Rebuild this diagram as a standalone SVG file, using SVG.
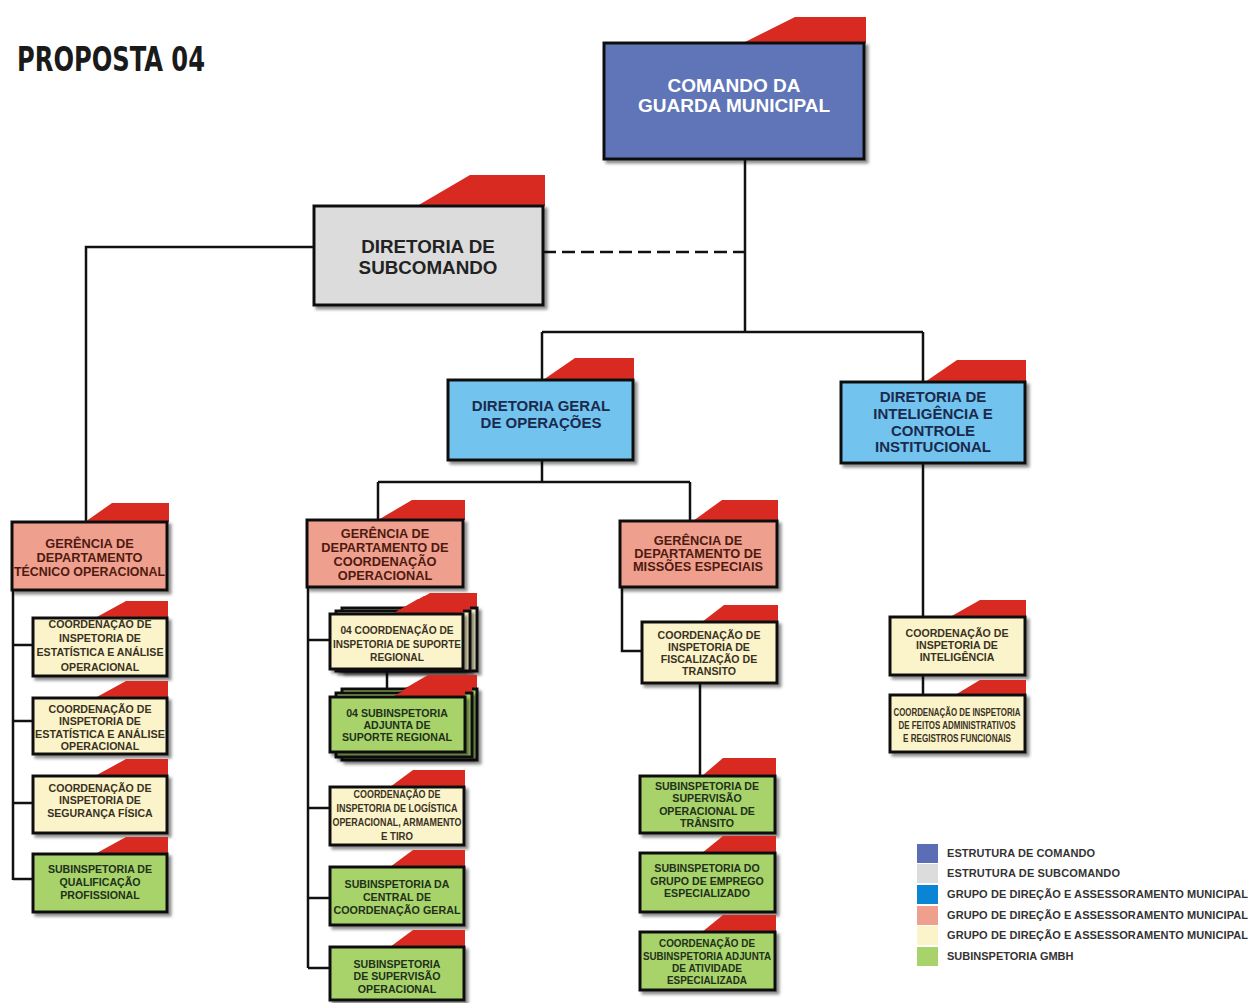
<svg xmlns="http://www.w3.org/2000/svg" width="1249" height="1003" viewBox="0 0 1249 1003">
<defs>
<filter id="sh" x="-10%" y="-10%" width="130%" height="140%">
<feDropShadow dx="3" dy="3" stdDeviation="1.6" flood-color="#000" flood-opacity="0.45"/>
</filter>
<style>
text{font-family:"Liberation Sans",Arial,sans-serif;font-weight:bold;text-anchor:middle}
.box{stroke:#111;stroke-width:3;filter:url(#sh)}
.tab{fill:#d82a20}
.cmd{fill:#5f74b7}
.sub{fill:#dcdcdc}
.dir{fill:#72c4ee}
.ger{fill:#ef9f8e}
.crd{fill:#fbf4cb}
.grn{fill:#a7d36a}
.tw{fill:#fff;font-size:19px}
.tg{fill:#222;font-size:18.8px}
.td{fill:#1b2a4e;font-size:15px}
.tr{fill:#4e1a10;font-size:12.8px}
.tc{fill:#3a321e;font-size:10.6px}
.tn{fill:#22301a;font-size:10.6px}
.lg{fill:#333;font-size:11px;text-anchor:start}
.con{fill:none;stroke:#111;stroke-width:2.5}
</style>
</defs>
<rect width="1249" height="1003" fill="#fff"/>
<text x="17" y="71" style="font-family:'DejaVu Sans Condensed','DejaVu Sans',sans-serif;font-size:33px;text-anchor:start;fill:#1a1a1a" textLength="188" lengthAdjust="spacingAndGlyphs">PROPOSTA 04</text>

<g id="connectors">
<path class="con" d="M745 160V332M542 332H923M542 332V380M923 332V382"/>
<path class="con" d="M543 252H745" stroke-dasharray="13 6"/>
<path class="con" d="M314 247H86V522"/>
<path class="con" d="M542 460V482M378 482H690M378 482V520M690 482V521"/>
<path class="con" d="M13 590V880M13 645H33M13 721H33M13 803H33M13 879H33"/>
<path class="con" d="M308 587V968M308 640H330M308 808H330M308 898H330M308 968H330"/>
<path class="con" d="M387 669V697"/>
<path class="con" d="M622 587V651H642"/>
<path class="con" d="M700 683V776"/>
<path class="con" d="M923 463V617M923 675V695"/>
</g>

<g id="comando">
<polygon class="tab" points="743,43 795,17 866,17 866,43"/>
<rect class="box cmd" x="604" y="43" width="260" height="116"/>
<text class="tw" x="734" y="92">COMANDO DA</text>
<text class="tw" x="734" y="112">GUARDA MUNICIPAL</text>
</g>

<g id="subcomando">
<polygon class="tab" points="417,206 470,175 545,175 545,206"/>
<rect class="box sub" x="314" y="206" width="229" height="99"/>
<text class="tg" x="428" y="253">DIRETORIA DE</text>
<text class="tg" x="428" y="274">SUBCOMANDO</text>
</g>

<g id="dgo">
<polygon class="tab" points="543,380 575,358 634,358 634,380"/>
<rect class="box dir" x="448" y="380" width="185" height="80"/>
<text class="td" x="541" y="411">DIRETORIA GERAL</text>
<text class="td" x="541" y="428">DE OPERAÇÕES</text>
</g>

<g id="dici">
<polygon class="tab" points="925,382 957,360 1026,360 1026,382"/>
<rect class="box dir" x="841" y="382" width="184" height="81"/>
<text class="td" x="933" y="402">DIRETORIA DE</text>
<text class="td" x="933" y="419">INTELIGÊNCIA E</text>
<text class="td" x="933" y="436">CONTROLE</text>
<text class="td" x="933" y="452">INSTITUCIONAL</text>
</g>

<g id="gdto">
<polygon class="tab" points="85,522 112,503 169,503 169,522"/>
<rect class="box ger" x="12" y="522" width="155" height="68"/>
<text class="tr" x="89.5" y="548">GERÊNCIA DE</text>
<text class="tr" x="89.5" y="562">DEPARTAMENTO</text>
<text class="tr" x="89.5" y="576" textLength="151" lengthAdjust="spacingAndGlyphs">TÉCNICO OPERACIONAL</text>
</g>

<g id="c1">
<polygon class="tab" points="95,618 126,601 168,601 168,618"/>
<rect class="box crd" x="33" y="618" width="134" height="58"/>
<text class="tc" x="100" y="628">COORDENAÇÃO DE</text>
<text class="tc" x="100" y="642">INSPETORIA DE</text>
<text class="tc" x="100" y="656" textLength="127" lengthAdjust="spacingAndGlyphs">ESTATÍSTICA E ANÁLISE</text>
<text class="tc" x="100" y="671">OPERACIONAL</text>
</g>

<g id="c2">
<polygon class="tab" points="95,698 126,681 168,681 168,698"/>
<rect class="box crd" x="33" y="698" width="134" height="56"/>
<text class="tc" x="100" y="713">COORDENAÇÃO DE</text>
<text class="tc" x="100" y="725">INSPETORIA DE</text>
<text class="tc" x="100" y="738" textLength="130" lengthAdjust="spacingAndGlyphs">ESTATÍSTICA E ANÁLISE</text>
<text class="tc" x="100" y="750">OPERACIONAL</text>
</g>

<g id="c3">
<polygon class="tab" points="95,776 126,759 168,759 168,776"/>
<rect class="box crd" x="33" y="776" width="134" height="57"/>
<text class="tc" x="100" y="792">COORDENAÇÃO DE</text>
<text class="tc" x="100" y="804">INSPETORIA DE</text>
<text class="tc" x="100" y="817">SEGURANÇA FÍSICA</text>
</g>

<g id="c4">
<polygon class="tab" points="95,854 126,837 168,837 168,854"/>
<rect class="box grn" x="33" y="854" width="134" height="58"/>
<text class="tn" x="100" y="873">SUBINSPETORIA DE</text>
<text class="tn" x="100" y="886">QUALIFICAÇÃO</text>
<text class="tn" x="100" y="899">PROFISSIONAL</text>
</g>

<g id="gdco">
<polygon class="tab" points="378,520 412,500 465,500 465,520"/>
<rect class="box ger" x="307" y="520" width="156" height="67"/>
<text class="tr" x="385" y="538">GERÊNCIA DE</text>
<text class="tr" x="385" y="552">DEPARTAMENTO DE</text>
<text class="tr" x="385" y="566">COORDENAÇÃO</text>
<text class="tr" x="385" y="580">OPERACIONAL</text>
</g>

<g id="s1">
<polygon class="tab" points="404,608 430,593 477,593 477,608"/>
<rect class="box crd" x="342" y="608" width="135" height="63"/>
<polygon class="tab" points="398,611 424,596 470,596 470,611"/>
<rect class="box crd" x="336" y="611" width="134" height="60"/>
<polygon class="tab" points="392,614 418,599 463,599 463,614"/>
<rect class="box crd" x="330" y="614" width="133" height="55"/>
<text class="tc" x="397" y="634" style="font-size:10.2px">04 COORDENAÇÃO DE</text>
<text class="tc" x="397" y="648" style="font-size:10.2px" textLength="128" lengthAdjust="spacingAndGlyphs">INSPETORIA DE SUPORTE</text>
<text class="tc" x="397" y="661" style="font-size:10.2px">REGIONAL</text>
</g>

<g id="s2">
<polygon class="tab" points="404,689 428,675 477,675 477,689"/>
<rect class="box grn" x="342" y="689" width="135" height="71"/>
<polygon class="tab" points="398,693 422,679 472,679 472,693"/>
<rect class="box grn" x="336" y="693" width="136" height="64"/>
<polygon class="tab" points="392,697 416,684 465,684 465,697"/>
<rect class="box grn" x="330" y="697" width="135" height="55"/>
<text class="tn" x="397" y="717">04 SUBINSPETORIA</text>
<text class="tn" x="397" y="729">ADJUNTA DE</text>
<text class="tn" x="397" y="741">SUPORTE REGIONAL</text>
</g>

<g id="c5">
<polygon class="tab" points="390,787 413,770 465,770 465,787"/>
<rect class="box crd" x="330" y="787" width="134" height="58"/>
<text class="tc" x="397" y="798" textLength="87" lengthAdjust="spacingAndGlyphs">COORDENAÇÃO DE</text>
<text class="tc" x="397" y="812" textLength="121" lengthAdjust="spacingAndGlyphs">INSPETORIA DE LOGÍSTICA</text>
<text class="tc" x="397" y="826" textLength="129" lengthAdjust="spacingAndGlyphs">OPERACIONAL, ARMAMENTO</text>
<text class="tc" x="397" y="840" textLength="32" lengthAdjust="spacingAndGlyphs">E TIRO</text>
</g>

<g id="c6">
<polygon class="tab" points="390,867 413,850 465,850 465,867"/>
<rect class="box grn" x="330" y="867" width="134" height="58"/>
<text class="tn" x="397" y="888">SUBINSPETORIA DA</text>
<text class="tn" x="397" y="901">CENTRAL DE</text>
<text class="tn" x="397" y="914" textLength="127" lengthAdjust="spacingAndGlyphs">COORDENAÇÃO GERAL</text>
</g>

<g id="c7">
<polygon class="tab" points="390,947 413,930 465,930 465,947"/>
<rect class="box grn" x="330" y="947" width="134" height="53"/>
<text class="tn" x="397" y="968">SUBINSPETORIA</text>
<text class="tn" x="397" y="980">DE SUPERVISÃO</text>
<text class="tn" x="397" y="993">OPERACIONAL</text>
</g>

<g id="gdme">
<polygon class="tab" points="693,521 722,500 778,500 778,521"/>
<rect class="box ger" x="620" y="521" width="157" height="66"/>
<text class="tr" x="698" y="545">GERÊNCIA DE</text>
<text class="tr" x="698" y="558">DEPARTAMENTO DE</text>
<text class="tr" x="698" y="571">MISSÕES ESPECIAIS</text>
</g>

<g id="c8">
<polygon class="tab" points="702,622 724,605 778,605 778,622"/>
<rect class="box crd" x="642" y="622" width="135" height="61"/>
<text class="tc" x="709" y="639">COORDENAÇÃO DE</text>
<text class="tc" x="709" y="651">INSPETORIA DE</text>
<text class="tc" x="709" y="663">FISCALIZAÇÃO DE</text>
<text class="tc" x="709" y="675">TRANSITO</text>
</g>

<g id="c9">
<polygon class="tab" points="702,776 723,758 776,758 776,776"/>
<rect class="box grn" x="640" y="776" width="135" height="57"/>
<text class="tn" x="707" y="790">SUBINSPETORIA DE</text>
<text class="tn" x="707" y="802">SUPERVISÃO</text>
<text class="tn" x="707" y="815">OPERACIONAL DE</text>
<text class="tn" x="707" y="827">TRÂNSITO</text>
</g>

<g id="c10">
<polygon class="tab" points="702,853 723,836 776,836 776,853"/>
<rect class="box grn" x="640" y="853" width="135" height="59"/>
<text class="tn" x="707" y="872">SUBINSPETORIA DO</text>
<text class="tn" x="707" y="885">GRUPO DE EMPREGO</text>
<text class="tn" x="707" y="897">ESPECIALIZADO</text>
</g>

<g id="c11">
<polygon class="tab" points="702,932 723,915 776,915 776,932"/>
<rect class="box grn" x="640" y="932" width="135" height="58"/>
<text class="tn" x="707" y="947" textLength="96" lengthAdjust="spacingAndGlyphs">COORDENAÇÃO DE</text>
<text class="tn" x="707" y="960" textLength="128" lengthAdjust="spacingAndGlyphs">SUBINSPETORIA ADJUNTA</text>
<text class="tn" x="707" y="972" textLength="70" lengthAdjust="spacingAndGlyphs">DE ATIVIDADE</text>
<text class="tn" x="707" y="984" textLength="80" lengthAdjust="spacingAndGlyphs">ESPECIALIZADA</text>
</g>

<g id="c12">
<polygon class="tab" points="950,617 980,600 1026,600 1026,617"/>
<rect class="box crd" x="890" y="617" width="135" height="58"/>
<text class="tc" x="957" y="637">COORDENAÇÃO DE</text>
<text class="tc" x="957" y="649">INSPETORIA DE</text>
<text class="tc" x="957" y="661">INTELIGÊNCIA</text>
</g>

<g id="c13">
<polygon class="tab" points="955,695 980,680 1026,680 1026,695"/>
<rect class="box crd" x="890" y="695" width="135" height="57"/>
<text class="tc" x="957" y="716" textLength="127" lengthAdjust="spacingAndGlyphs">COORDENAÇÃO DE INSPETORIA</text>
<text class="tc" x="957" y="729" textLength="117" lengthAdjust="spacingAndGlyphs">DE FEITOS ADMINISTRATIVOS</text>
<text class="tc" x="957" y="742" textLength="108" lengthAdjust="spacingAndGlyphs">E REGISTROS FUNCIONAIS</text>
</g>

<g id="legend">
<rect x="917" y="844" width="21" height="19" fill="#5b6db5"/>
<rect x="917" y="864" width="21" height="19" fill="#dcdcdc"/>
<rect x="917" y="885" width="21" height="19" fill="#0a85d5"/>
<rect x="917" y="906" width="21" height="19" fill="#ef9f8e"/>
<rect x="917" y="926" width="21" height="19" fill="#fbf4cb"/>
<rect x="917" y="947" width="21" height="19" fill="#a7d36a"/>
<text class="lg" x="947" y="857" textLength="148">ESTRUTURA DE COMANDO</text>
<text class="lg" x="947" y="877" textLength="173">ESTRUTURA DE SUBCOMANDO</text>
<text class="lg" x="947" y="898" textLength="301">GRUPO DE DIREÇÃO E ASSESSORAMENTO MUNICIPAL</text>
<text class="lg" x="947" y="919" textLength="301">GRUPO DE DIREÇÃO E ASSESSORAMENTO MUNICIPAL</text>
<text class="lg" x="947" y="939" textLength="301">GRUPO DE DIREÇÃO E ASSESSORAMENTO MUNICIPAL</text>
<text class="lg" x="947" y="960">SUBINSPETORIA GMBH</text>
</g>
</svg>
